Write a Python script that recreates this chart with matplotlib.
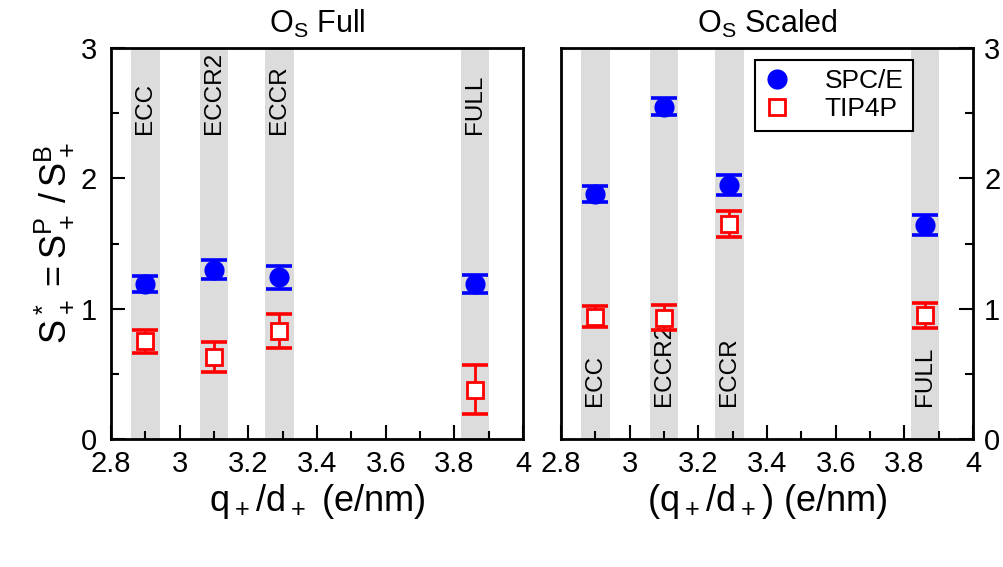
import matplotlib
matplotlib.use('Agg')
import matplotlib.pyplot as plt
from matplotlib.ticker import MultipleLocator

plt.rcParams['font.family'] = ['Liberation Sans', 'DejaVu Sans']
plt.rcParams['mathtext.fontset'] = 'custom'
plt.rcParams['mathtext.rm'] = 'Liberation Sans'

models = ['ECC', 'ECCR2', 'ECCR', 'FULL']
q_over_d = [2.90, 3.10, 3.29, 3.86]
band_half = 0.042

spce_full = [1.19, 1.30, 1.24, 1.19]
spce_full_err = [0.06, 0.07, 0.09, 0.07]
tip4p_full = [0.75, 0.63, 0.83, 0.38]
tip4p_full_err = [0.09, 0.115, 0.13, 0.185]

spce_scaled = [1.88, 2.55, 1.95, 1.64]
spce_scaled_err = [0.065, 0.067, 0.075, 0.077]
tip4p_scaled = [0.94, 0.93, 1.65, 0.95]
tip4p_scaled_err = [0.08, 0.095, 0.10, 0.096]

fig = plt.figure(figsize=(10.04, 5.67), dpi=100)
ax1 = fig.add_axes([0.1106, 0.2257, 0.4104, 0.6896])
ax2 = fig.add_axes([0.5588, 0.2257, 0.4104, 0.6896])


def draw_panel(ax, spce, spce_err, tip, tip_err, label_y, title, xlabel):
    for xc, name in zip(q_over_d, models):
        ax.axvspan(xc - band_half, xc + band_half, color='#dcdcdc', lw=0, zorder=0)
        ax.text(xc, label_y, name, rotation=90, ha='center', va='bottom', fontsize=17.5, zorder=1)
    ax.errorbar(q_over_d, spce, yerr=spce_err, fmt='none', ecolor='blue',
                elinewidth=2, capsize=9.5, capthick=2.6, zorder=2)
    ax.errorbar(q_over_d, tip, yerr=tip_err, fmt='none', ecolor='red',
                elinewidth=2, capsize=9.5, capthick=2.6, zorder=2)
    ax.plot(q_over_d, spce, 'o', color='blue', ms=14.5, mew=0, ls='none', zorder=3, label='SPC/E')
    ax.plot(q_over_d, tip, 's', mfc='white', mec='red', ms=11.5, mew=2, ls='none', zorder=3, label='TIP4P')
    ax.set_xlim(2.8, 4)
    ax.set_ylim(0, 3)
    ax.xaxis.set_minor_locator(MultipleLocator(0.1))
    ax.yaxis.set_minor_locator(MultipleLocator(0.5))
    ax.set_xticks([2.8, 3.0, 3.2, 3.4, 3.6, 3.8, 4.0])
    ax.set_xticklabels(['2.8', '3', '3.2', '3.4', '3.6', '3.8', '4'])
    ax.set_yticks([0, 1, 2, 3])
    ax.set_yticklabels(['0', '1', '2', '3'])
    ax.tick_params(which='both', direction='in', labelsize=21, pad=8, width=1.5)
    ax.tick_params(which='major', length=10)
    ax.tick_params(which='minor', length=6)
    for sp in ax.spines.values():
        sp.set_linewidth(2)
    ax.set_title(title, fontsize=22, pad=11)
    ax.set_xlabel(xlabel, fontsize=26, labelpad=3)


draw_panel(ax1, spce_full, spce_full_err, tip4p_full, tip4p_full_err, 2.34,
           r'$\mathregular{O_S}$ Full', r'$\mathregular{q_+/d_+}$ (e/nm)')
draw_panel(ax2, spce_scaled, spce_scaled_err, tip4p_scaled, tip4p_scaled_err, 0.25,
           r'$\mathregular{O_S}$ Scaled', r'($\mathregular{q_+/d_+}$) (e/nm)')

ax1.tick_params(axis='y', which='both', left=True, right=False, pad=10)
ax1.set_ylabel(r'$\mathregular{S_+^* = S_+^P\,/\,S_+^B}$', fontsize=26, labelpad=4)

ax2.tick_params(axis='y', which='both', left=False, right=True, labelleft=False, labelright=True)

leg = ax2.legend(loc='upper right', bbox_to_anchor=(0.854, 0.969), fontsize=19,
                 handlelength=1.0, handletextpad=1.3, labelspacing=0.15,
                 borderpad=0.35, fancybox=False, framealpha=1, edgecolor='black',
                 borderaxespad=0)
leg.get_frame().set_linewidth(1.5)

fig.savefig('out.png', dpi=100)
